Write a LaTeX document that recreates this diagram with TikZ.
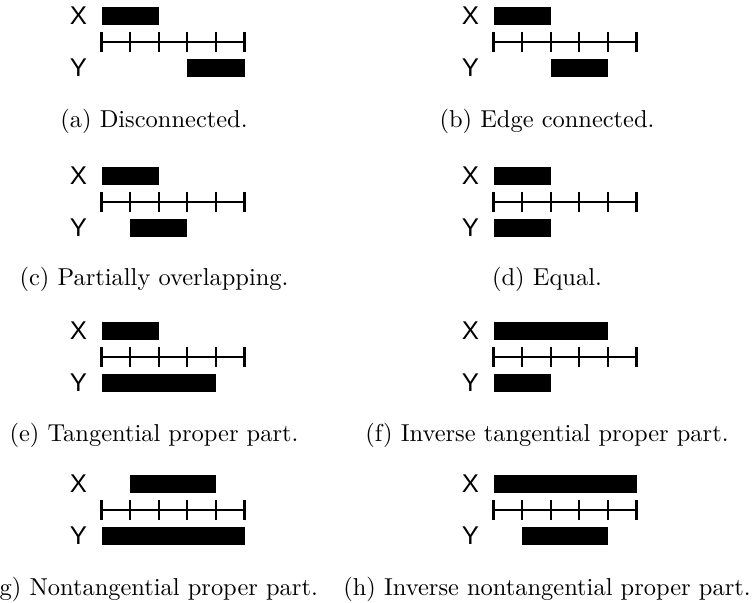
\documentclass[tikz,border=0pt]{standalone}
\usepackage{fontspec}
\usepackage{tikz}
\usetikzlibrary{positioning,calc}
\newfontfamily\lblfont{Liberation Sans}
\tikzstyle{axS}=[line width=0.9pt]
\tikzstyle{barS}=[fill=black]
\tikzstyle{lblS}=[inner sep=0pt, font=\lblfont\fontsize{10.5}{12}\selectfont]
\tikzstyle{capS}=[inner sep=0pt, anchor=base, font=\normalsize]
% #1 name, #2 left end of axis, #3 axis height, #4-#5 X interval, #6-#7 Y interval
\newcommand{\relpanel}[7]{%
  \draw[axS] (#2,#3) -- (#2+143,#3);
  \foreach \i in {0,...,5}
    \draw[axS] (#2+\i*28.6,#3-10) -- (#2+\i*28.6,#3+10);
  \fill[barS] (#2+#4*28.6,#3-35) rectangle (#2+#5*28.6,#3-17);
  \fill[barS] (#2+#6*28.6,#3+17) rectangle (#2+#7*28.6,#3+35);
  \node[lblS] (X#1) at (#2-23,#3-26) {X};
  \node[lblS] (Y#1) at (#2-23,#3+26) {Y};
}
\begin{document}
\begin{tikzpicture}[x=0.409pt,y=-0.409pt]
    \useasboundingbox (0,0) rectangle (754,602);
    % row 1
    \relpanel{a}{101.5}{42}{0}{2}{3}{5}
    \relpanel{b}{493.5}{42}{0}{2}{2}{4}
    \node[capS] (capa) at (154,127) {(a) Disconnected.};
    \node[capS] (capb) at (547,127) {(b) Edge connected.};
    % row 2
    \relpanel{c}{101.5}{202}{0}{2}{1}{3}
    \relpanel{d}{493.5}{202}{0}{2}{0}{2}
    \node[capS] (capc) at (154,285) {(c) Partially overlapping.};
    \node[capS] (capd) at (547,285) {(d) Equal.};
    % row 3
    \relpanel{e}{101.5}{357}{0}{2}{0}{4}
    \relpanel{f}{493.5}{357}{0}{4}{0}{2}
    \node[capS] (cape) at (154,441) {(e) Tangential proper part.};
    \node[capS] (capf) at (547,441) {(f) Inverse tangential proper part.};
    % row 4
    \relpanel{g}{101.5}{510}{1}{4}{0}{5}
    \relpanel{h}{493.5}{510}{0}{5}{1}{4}
    \node[capS] (capg) at (154,595) {(g) Nontangential proper part.};
    \node[capS] (caph) at (547,595) {(h) Inverse nontangential proper part.};
\end{tikzpicture}
\end{document}
